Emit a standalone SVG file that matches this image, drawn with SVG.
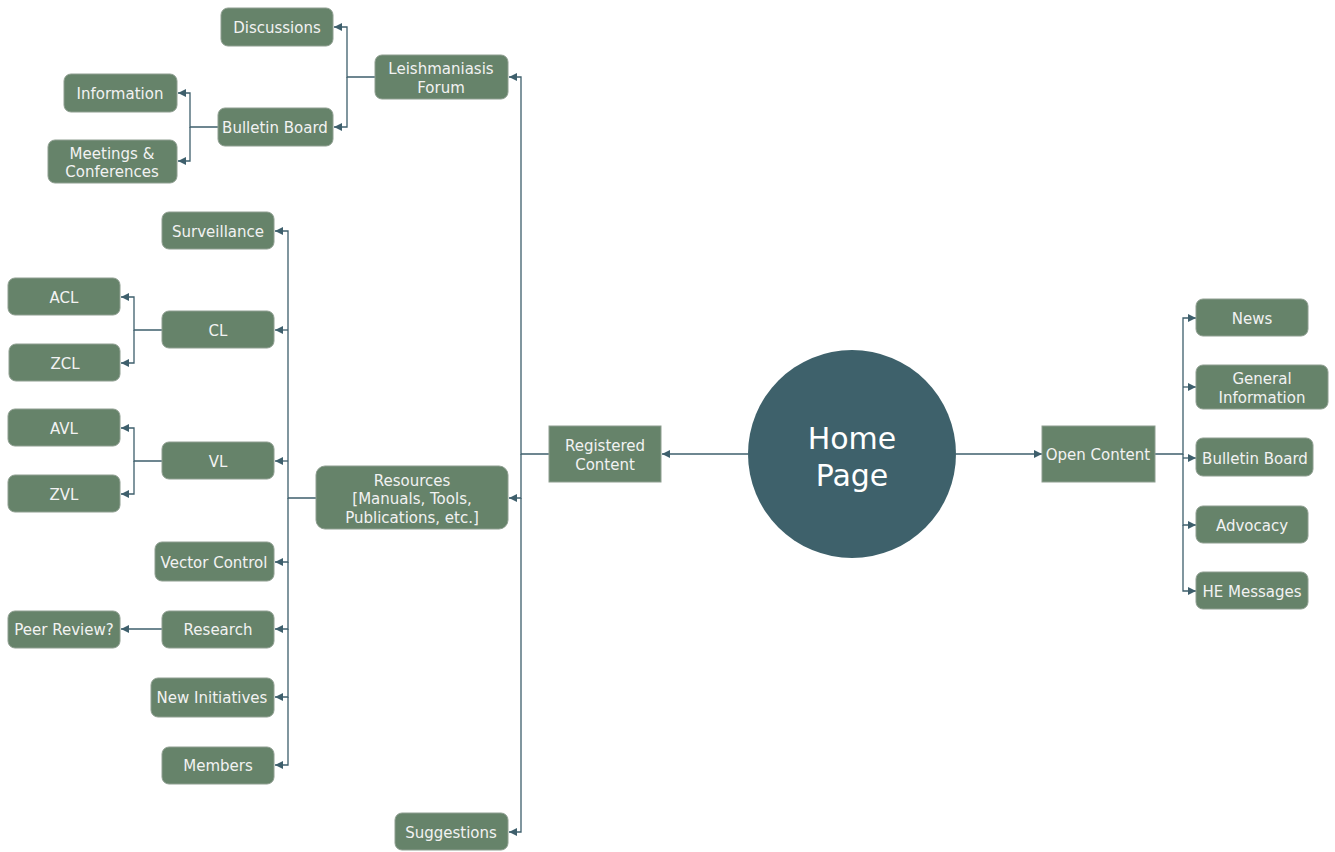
<svg xmlns="http://www.w3.org/2000/svg" width="1335" height="852" viewBox="0 0 1335 852">
<style>
.n{fill:#66836a;stroke:#8e9e90;stroke-width:1}
.t{font-family:"DejaVu Sans",Verdana,sans-serif;font-size:15px;fill:#f2f2f2;text-anchor:middle;dominant-baseline:central}
.h{font-family:"DejaVu Sans",Verdana,sans-serif;font-size:30px;fill:#ffffff;text-anchor:middle;dominant-baseline:central}
.c{fill:none;stroke:#3e5f6c;stroke-width:1.3}
</style>
<defs>
<marker id="a" markerUnits="userSpaceOnUse" markerWidth="9" markerHeight="8" refX="8" refY="4" orient="auto"><path d="M0,0 L8,4 L0,8 Z" fill="#3e5f6c"/></marker>
</defs>
<rect width="1335" height="852" fill="#ffffff"/>
<g id="connectors">
<path class="c" d="M375,77 H347 V27 H334" marker-end="url(#a)"/>
<path class="c" d="M347,77 V127 H334" marker-end="url(#a)"/>
<path class="c" d="M218,127 H190 V93 H178" marker-end="url(#a)"/>
<path class="c" d="M190,127 V161 H178" marker-end="url(#a)"/>
<path class="c" d="M316,498 H288 V231 H275" marker-end="url(#a)"/>
<path class="c" d="M288,330 H275" marker-end="url(#a)"/>
<path class="c" d="M288,461 H275" marker-end="url(#a)"/>
<path class="c" d="M288,498 V562 H275" marker-end="url(#a)"/>
<path class="c" d="M288,562 V629 H275" marker-end="url(#a)"/>
<path class="c" d="M288,629 V697 H275" marker-end="url(#a)"/>
<path class="c" d="M288,697 V765 H275" marker-end="url(#a)"/>
<path class="c" d="M162,330 H134 V297 H121" marker-end="url(#a)"/>
<path class="c" d="M134,330 V363 H121" marker-end="url(#a)"/>
<path class="c" d="M162,461 H134 V428 H121" marker-end="url(#a)"/>
<path class="c" d="M134,461 V494 H121" marker-end="url(#a)"/>
<path class="c" d="M162,629 H121" marker-end="url(#a)"/>
<path class="c" d="M549,454 H521 V77 H509" marker-end="url(#a)"/>
<path class="c" d="M521,454 V498 H509" marker-end="url(#a)"/>
<path class="c" d="M521,498 V832 H509" marker-end="url(#a)"/>
<path class="c" d="M748,454 H662" marker-end="url(#a)"/>
<path class="c" d="M956,454 H1042" marker-end="url(#a)"/>
<path class="c" d="M1155,454 H1183 V318 H1196" marker-end="url(#a)"/>
<path class="c" d="M1183,387 H1196" marker-end="url(#a)"/>
<path class="c" d="M1183,458 H1196" marker-end="url(#a)"/>
<path class="c" d="M1183,454 V525 H1196" marker-end="url(#a)"/>
<path class="c" d="M1183,525 V591 H1196" marker-end="url(#a)"/>
</g>
<g id="home"><circle cx="852" cy="454" r="104" fill="#3e616b"/><text class="h" x="852" y="438">Home</text><text class="h" x="852" y="475">Page</text></g>
<g id="registered"><rect class="n" x="549" y="426" width="112" height="56"/><text class="t" x="605" y="446">Registered</text><text class="t" x="605" y="465">Content</text></g>
<g id="open"><rect class="n" x="1042" y="426" width="113" height="56"/><text class="t" x="1098" y="455">Open Content</text></g>
<g id="forum"><rect class="n" x="375" y="55" width="133" height="44" rx="7"/><text class="t" x="441" y="69">Leishmaniasis</text><text class="t" x="441" y="88">Forum</text></g>
<g id="discussions"><rect class="n" x="221" y="8" width="112" height="38" rx="7"/><text class="t" x="277" y="28">Discussions</text></g>
<g id="bb1"><rect class="n" x="218" y="108" width="115" height="38" rx="7"/><text class="t" x="275" y="128">Bulletin Board</text></g>
<g id="information"><rect class="n" x="64" y="74" width="113" height="38" rx="7"/><text class="t" x="120" y="94">Information</text></g>
<g id="meetings"><rect class="n" x="48" y="140" width="129" height="43" rx="7"/><text class="t" x="112" y="154">Meetings &amp;</text><text class="t" x="112" y="172">Conferences</text></g>
<g id="surveillance"><rect class="n" x="162" y="212" width="112" height="37" rx="7"/><text class="t" x="218" y="232">Surveillance</text></g>
<g id="acl"><rect class="n" x="8" y="278" width="112" height="37" rx="7"/><text class="t" x="64" y="298">ACL</text></g>
<g id="cl"><rect class="n" x="162" y="311" width="112" height="37" rx="7"/><text class="t" x="218" y="331">CL</text></g>
<g id="zcl"><rect class="n" x="9" y="344" width="111" height="37" rx="7"/><text class="t" x="65" y="364">ZCL</text></g>
<g id="avl"><rect class="n" x="8" y="409" width="112" height="37" rx="7"/><text class="t" x="64" y="429">AVL</text></g>
<g id="vl"><rect class="n" x="162" y="442" width="112" height="37" rx="7"/><text class="t" x="218" y="462">VL</text></g>
<g id="zvl"><rect class="n" x="8" y="475" width="112" height="37" rx="7"/><text class="t" x="64" y="495">ZVL</text></g>
<g id="resources"><rect class="n" x="316" y="466" width="192" height="63" rx="9"/><text class="t" x="412" y="481">Resources</text><text class="t" x="412" y="499">[Manuals, Tools,</text><text class="t" x="412" y="518">Publications, etc.]</text></g>
<g id="vector"><rect class="n" x="155" y="542" width="119" height="39" rx="7"/><text class="t" x="214" y="563">Vector Control</text></g>
<g id="research"><rect class="n" x="162" y="611" width="112" height="37" rx="7"/><text class="t" x="218" y="630">Research</text></g>
<g id="peer"><rect class="n" x="8" y="611" width="112" height="37" rx="7"/><text class="t" x="64" y="630">Peer Review?</text></g>
<g id="initiatives"><rect class="n" x="151" y="678" width="123" height="39" rx="7"/><text class="t" x="212" y="698">New Initiatives</text></g>
<g id="members"><rect class="n" x="162" y="747" width="112" height="37" rx="7"/><text class="t" x="218" y="766">Members</text></g>
<g id="suggestions"><rect class="n" x="395" y="813" width="113" height="37" rx="7"/><text class="t" x="451" y="833">Suggestions</text></g>
<g id="news"><rect class="n" x="1196" y="299" width="112" height="37" rx="7"/><text class="t" x="1252" y="319">News</text></g>
<g id="general"><rect class="n" x="1196" y="365" width="132" height="44" rx="7"/><text class="t" x="1262" y="379">General</text><text class="t" x="1262" y="398">Information</text></g>
<g id="bb2"><rect class="n" x="1196" y="438" width="117" height="38" rx="7"/><text class="t" x="1255" y="459">Bulletin Board</text></g>
<g id="advocacy"><rect class="n" x="1196" y="506" width="112" height="37" rx="7"/><text class="t" x="1252" y="526">Advocacy</text></g>
<g id="he"><rect class="n" x="1196" y="572" width="112" height="37" rx="7"/><text class="t" x="1252" y="592">HE Messages</text></g>
</svg>
